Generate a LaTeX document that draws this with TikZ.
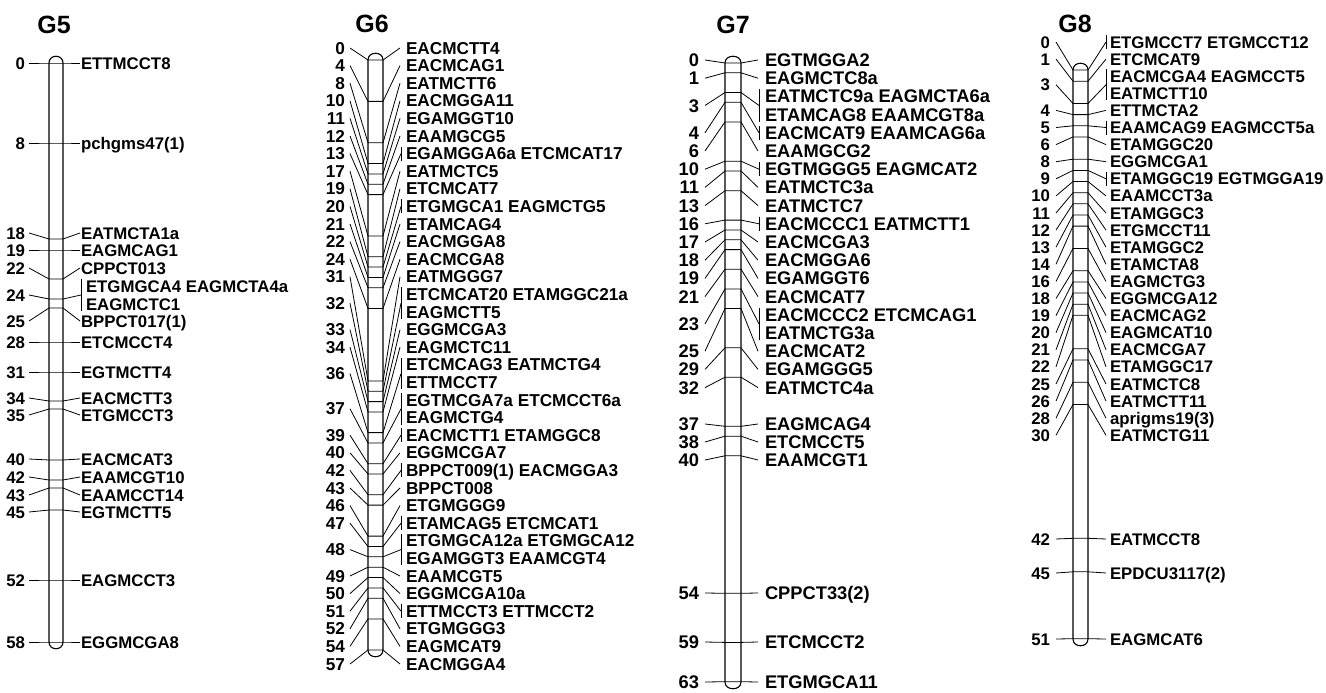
\documentclass[tikz,border=0pt]{standalone}
\usepackage{fontspec}
\setmainfont{Liberation Sans}
\newcommand\fs{17}
\newcommand\bo{6.1}
\newcommand\setfs[1]{\def\fs{#1}\pgfmathsetmacro\bo{0.358*#1}}
\newcommand\setchr[8]{\def\xN{#1}\def\xA{#2}\def\xL{#3}\def\xR{#4}\def\xB{#5}\def\xT{#6}\def\xK{#7}\def\xG{#8}}
\newcommand\mone[5]{%
 \node[numsty,anchor=base east] (n#1) at (\xN,#2+\bo) {#4};
 \node[labsty,anchor=base west] (t#1) at (\xT,#2+\bo) {#5};
 \coordinate (a#1) at (\xA,#2);
 \coordinate (p#1) at (\xL,#3);
 \coordinate (q#1) at (\xR,#3);
 \coordinate (b#1) at (\xB,#2);
 \draw[conn] (a#1) -- (p#1) -- (q#1) -- (b#1);}
\newcommand\mbr[5]{%
 \node[numsty,anchor=base east] (n#1) at (\xN,#2+\bo) {#4};
 \node[labsty,anchor=base west] (t#1) at (\xG,#2+\bo) {#5};
 \coordinate (a#1) at (\xA,#2);
 \coordinate (p#1) at (\xL,#3);
 \coordinate (q#1) at (\xR,#3);
 \coordinate (b#1) at (\xK,#2);
 \coordinate (u#1) at (\xK,#2-7);
 \coordinate (v#1) at (\xK,#2+7);
 \draw[conn] (a#1) -- (p#1) -- (q#1) -- (b#1);
 \draw[conn] (u#1) -- (v#1);}
\newcommand\mtwo[7]{%
 \pgfmathsetmacro\ym{(#2+#3)/2}
 \node[numsty,anchor=base east] (n#1) at (\xN,\ym+\bo) {#5};
 \node[labsty,anchor=base west] (t#1) at (\xG,#2+\bo) {#6};
 \node[labsty,anchor=base west] (s#1) at (\xG,#3+\bo) {#7};
 \coordinate (a#1) at (\xA,\ym);
 \coordinate (p#1) at (\xL,#4);
 \coordinate (q#1) at (\xR,#4);
 \coordinate (b#1) at (\xK,\ym);
 \coordinate (u#1) at (\xK,#2-7);
 \coordinate (v#1) at (\xK,#3+7);
 \draw[conn] (a#1) -- (p#1) -- (q#1) -- (b#1);
 \draw[conn] (u#1) -- (v#1);}
\newcommand\chrom[4]{%
 \draw[chromsty] (#1,#4) -- (#1,#3) .. controls (#1,#3-9) and (#2,#3-9) .. (#2,#3) -- (#2,#4) .. controls (#2,#4+9) and (#1,#4+9) .. (#1,#4) -- cycle;}
\begin{document}
\begin{tikzpicture}[x=1pt,y=-1pt,
  labsty/.style={font=\fontsize{\fs}{\fs}\selectfont\bfseries,inner sep=0pt,outer sep=0pt},
  numsty/.style={font=\fontsize{\fs}{\fs}\selectfont\bfseries,inner sep=0pt,outer sep=0pt},
  titlesty/.style={font=\fontsize{25}{26}\selectfont\bfseries,inner sep=0pt},
  conn/.style={draw=black,line width=0.8pt},
  chromsty/.style={draw=black,fill=white,line width=1.1pt}]
\useasboundingbox[fill=white] (0,0) rectangle (1326,693);
% titles
\node[titlesty] (g5) at (54,25) {G5};
\node[titlesty] (g6) at (372,24) {G6};
\node[titlesty] (g7) at (733,25) {G7};
\node[titlesty] (g8) at (1075,24) {G8};
% chromosomes
\chrom{49}{63}{63}{642}
\chrom{368}{383}{60}{650}
\chrom{725}{741}{63}{682}
\chrom{1073}{1088}{70}{639}
% G5
\setfs{16.8}
\setchr{25}{29}{49}{63}{80}{81}{81}{86}
\mone{a0}{63}{63}{0}{ETTMCCT8}
\mone{a8}{143}{143}{8}{pchgms47(1)}
\mone{a18}{233}{239}{18}{EATMCTA1a}
\mone{a19}{250}{250}{19}{EAGMCAG1}
\mone{a22}{268}{279}{22}{CPPCT013}
\mtwo{a24}{286}{304}{299}{24}{ETGMGCA4 EAGMCTA4a}{EAGMCTC1}
\mone{a25}{321}{308}{25}{BPPCT017(1)}
\mone{a28}{342}{342}{28}{ETCMCCT4}
\mone{a31}{372}{372}{31}{EGTMCTT4}
\mone{a34}{398}{401}{34}{EACMCTT3}
\mone{a35}{415}{409}{35}{ETGMCCT3}
\mone{a40}{459}{460}{40}{EACMCAT3}
\mone{a42}{477}{480}{42}{EAAMCGT10}
\mone{a43}{495}{488}{43}{EAAMCCT14}
\mone{a45}{512}{510}{45}{EGTMCTT5}
\mone{a52}{580}{580}{52}{EAGMCCT3}
\mone{a58}{642}{642}{58}{EGGMCGA8}
% G6
\setfs{17.2}
\setchr{345}{350}{368}{383}{400}{406}{401}{406}
\mone{b0}{48}{60}{0}{EACMCTT4}
\mone{b4}{65.6}{101.4}{4}{EACMCAG1}
\mone{b8}{83.2}{142.8}{8}{EATMCTT6}
\mone{b10}{100.8}{163.5}{10}{EACMGGA11}
\mone{b11}{118.4}{173.9}{11}{EGAMGGT10}
\mone{b12}{136}{184.2}{12}{EAAMGCG5}
\mbr{b13}{153.6}{194.6}{13}{EGAMGGA6a ETCMCAT17}
\mone{b17}{171.2}{236}{17}{EATMCTC5}
\mone{b19}{188.8}{256.7}{19}{ETCMCAT7}
\mbr{b20}{206.4}{267}{20}{ETGMGCA1 EAGMCTG5}
\mone{b21}{224}{277.4}{21}{ETAMCAG4}
\mone{b22}{241.6}{287.7}{22}{EACMGGA8}
\mone{b24}{259.2}{308.4}{24}{EACMCGA8}
\mone{b31}{276.8}{380.9}{31}{EATMGGG7}
\mtwo{b32}{294.4}{312}{391.2}{32}{ETCMCAT20 ETAMGGC21a}{EAGMCTT5}
\mone{b33}{329.6}{401.6}{33}{EGGMCGA3}
\mone{b34}{347.2}{411.9}{34}{EAGMCTC11}
\mtwo{b36}{364.8}{382.4}{432.6}{36}{ETCMCAG3 EATMCTG4}{ETTMCCT7}
\mtwo{b37}{400}{417.6}{443}{37}{EGTMCGA7a ETCMCCT6a}{EAGMCTG4}
\mbr{b39}{435.2}{463.7}{39}{EACMCTT1 ETAMGGC8}
\mone{b40}{452.8}{474}{40}{EGGMCGA7}
\mbr{b42}{470.4}{494.7}{42}{BPPCT009(1) EACMGGA3}
\mone{b43}{488}{505.1}{43}{BPPCT008}
\mone{b46}{505.6}{536.1}{46}{ETGMGGG9}
\mbr{b47}{523.2}{546.5}{47}{ETAMCAG5 ETCMCAT1}
\mtwo{b48}{540.8}{558.4}{556.8}{48}{ETGMGCA12a ETGMGCA12}{EGAMGGT3 EAAMCGT4}
\mone{b49}{576}{567.2}{49}{EAAMCGT5}
\mone{b50}{593.6}{577.5}{50}{EGGMCGA10a}
\mbr{b51}{611.2}{587.9}{51}{ETTMCCT3 ETTMCCT2}
\mone{b52}{628.8}{598.2}{52}{ETGMGGG3}
\mone{b54}{646.4}{618.9}{54}{EAGMCAT9}
\mone{b57}{664}{650}{57}{EACMGGA4}
% G7
\setfs{18.3}
\setchr{699}{705}{725}{741}{758}{765}{759}{765}
\mone{c0}{60}{63}{0}{EGTMGGA2}
\mone{c1}{78.2}{72.8}{1}{EAGMCTC8a}
\mtwo{c3}{96.4}{114.6}{92.5}{3}{EATMCTC9a EAGMCTA6a}{ETAMCAG8 EAAMCGT8a}
\mbr{c4}{132.8}{102.3}{4}{EACMCAT9 EAAMCAG6a}
\mone{c6}{151}{121.9}{6}{EAAMGCG2}
\mbr{c10}{169.2}{161.2}{10}{EGTMGGG5 EAGMCAT2}
\mone{c11}{187.4}{171}{11}{EATMCTC3a}
\mone{c13}{205.6}{190.7}{13}{EATMCTC7}
\mbr{c16}{223.8}{220.1}{16}{EACMCCC1 EATMCTT1}
\mone{c17}{242}{230}{17}{EACMCGA3}
\mone{c18}{260.2}{239.8}{18}{EACMGGA6}
\mone{c19}{278.4}{249.6}{19}{EGAMGGT6}
\mone{c21}{296.6}{269.2}{21}{EACMCAT7}
\mtwo{c23}{314.8}{333}{288.9}{23}{EACMCCC2 ETCMCAG1}{EATMCTG3a}
\mone{c25}{351.2}{308.5}{25}{EACMCAT2}
\mone{c29}{369.4}{347.8}{29}{EGAMGGG5}
\mone{c32}{387.6}{377.2}{32}{EATMCTC4a}
\mone{c37}{424}{426.3}{37}{EAGMCAG4}
\mone{c38}{442}{436.2}{38}{ETCMCCT5}
\mone{c40}{460}{455.8}{40}{EAAMCGT1}
\mone{c54}{593}{593.3}{54}{CPPCT33(2)}
\mone{c59}{642}{642.4}{59}{ETCMCCT2}
\mone{c63}{682}{681.7}{63}{ETGMGCA11}
% G8
\setfs{16.8}
\setchr{1050}{1056}{1073}{1088}{1106}{1110}{1106}{1110}
\mbr{d0}{42}{70}{0}{ETGMCCT7 ETGMCCT12}
\mone{d1}{59.1}{81.2}{1}{ETCMCAT9}
\mtwo{d3}{76.2}{93.3}{103.5}{3}{EACMCGA4 EAGMCCT5}{EATMCTT10}
\mone{d4}{110.4}{114.6}{4}{ETTMCTA2}
\mbr{d5}{127.5}{125.8}{5}{EAAMCAG9 EAGMCCT5a}
\mone{d6}{144.6}{136.9}{6}{ETAMGGC20}
\mone{d8}{161.7}{159.2}{8}{EGGMCGA1}
\mbr{d9}{178.8}{170.4}{9}{ETAMGGC19 EGTMGGA19}
\mone{d10}{195.9}{181.5}{10}{EAAMCCT3a}
\mone{d11}{213}{192.7}{11}{ETAMGGC3}
\mone{d12}{230.1}{203.8}{12}{ETGMCCT11}
\mone{d13}{247.2}{215}{13}{ETAMGGC2}
\mone{d14}{264.3}{226.1}{14}{ETAMCTA8}
\mone{d16}{281.4}{248.4}{16}{EAGMCTG3}
\mone{d18}{298.5}{270.7}{18}{EGGMCGA12}
\mone{d19}{315.6}{281.9}{19}{EACMCAG2}
\mone{d20}{332.7}{293}{20}{EAGMCAT10}
\mone{d21}{349.8}{304.2}{21}{EACMCGA7}
\mone{d22}{366.9}{315.3}{22}{ETAMGGC17}
\mone{d25}{384}{348.8}{25}{EATMCTC8}
\mone{d26}{401.1}{359.9}{26}{EATMCTT11}
\mone{d28}{418.2}{382.2}{28}{aprigms19(3)}
\mone{d30}{435.3}{404.5}{30}{EATMCTG11}
\mone{d42}{539}{538.3}{42}{EATMCCT8}
\mone{d45}{573}{571.8}{45}{EPDCU3117(2)}
\mone{d51}{639}{638.7}{51}{EAGMCAT6}
\end{tikzpicture}
\end{document}
